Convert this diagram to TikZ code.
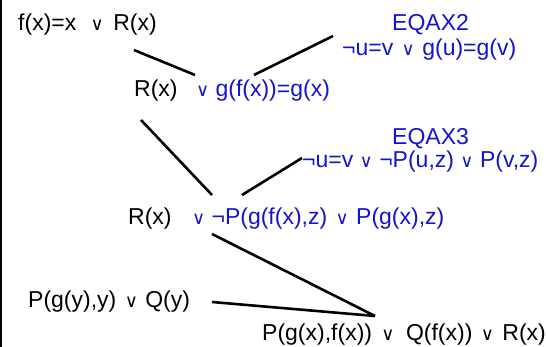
\documentclass[tikz,border=0pt]{standalone}
\usepackage{fontspec}
\setmainfont{Liberation Sans}
\newfontfamily\dvfont{DejaVu Sans}
\usetikzlibrary{positioning}
\definecolor{eqblue}{HTML}{1414CC}
\newcommand{\vsym}{{\dvfont\fontsize{18}{18}\selectfont ∨}}
\newcommand{\disj}{\ \hspace{2pt}\vsym\ \hspace{1pt}}

\begin{document}
\begin{tikzpicture}[
  x=1pt, y=-1pt,
  clause/.style = {
    anchor=base west, inner sep=0pt,
    font=\fontsize{23}{27}\selectfont
  },
  axiom/.style = {clause, text=eqblue},
  edge/.style = {line width=2.6pt}
]
  \useasboundingbox (0,0) rectangle (546,347);
  \draw[line width=1.6pt] (1,0) -- (1,347);

  \node[clause] (fx)  at (18,30.5) {f(x)=x\ \hspace{8pt}\vsym\ \hspace{3pt}R(x)};
  \node[axiom]  (eq2) at (392,31)  {EQAX2};
  \node[axiom]  (ax2) at (342,56)  {¬u=v\disj g(u)=g(v)};
  \node[clause] (rg)  at (134,97)  {R(x)\ \hspace{12pt}{\color{eqblue}\vsym\ g(f(x))=g(x)}};
  \node[axiom]  (eq3) at (392,145) {EQAX3};
  \node[axiom]  (ax3) at (302,168) {¬u=v \vsym\ ¬P(u,z) \vsym\ P(v,z)};
  \node[clause] (rp)  at (128,225) {R(x)\ \hspace{14pt}{\color{eqblue}\vsym\ ¬P(g(f(x),z)\disj P(g(x),z)}};
  \node[clause] (pq)  at (28,307)  {P(g(y),y)\disj Q(y)};
  \node[clause] (res) at (262,340) {P(g(x),f(x))\ \hspace{3pt}\vsym\ \hspace{5pt}Q(f(x))\ \hspace{2pt}\vsym\ \hspace{2pt}R(x)};

  \draw[edge] ([shift={(116,19.5)}]fx.base west) -- ([shift={(61,-22)}]rg.base west);
  \draw[edge] ([shift={(-9,-20)}]ax2.base west)  -- ([shift={(120,-22)}]rg.base west);
  \draw[edge] ([shift={(7,23)}]rg.base west)     -- ([shift={(84,-30)}]rp.base west);
  \draw[edge] ([shift={(0,-10)}]ax3.base west)   -- ([shift={(114,-30)}]rp.base west);
  \draw[edge] ([shift={(84,9)}]rp.base west)     -- ([shift={(113,-24)}]res.base west);
  \draw[edge] ([shift={(184,-5)}]pq.base west)   -- ([shift={(113,-24)}]res.base west);
\end{tikzpicture}
\end{document}
